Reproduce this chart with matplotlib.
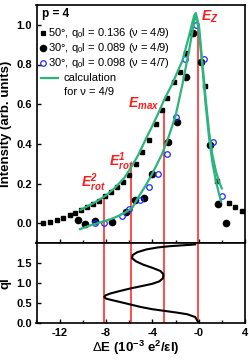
import matplotlib
matplotlib.use("Agg")
import matplotlib.pyplot as plt

plt.rcParams['font.family'] = ['Liberation Sans', 'DejaVu Sans']
plt.rcParams['axes.unicode_minus'] = False
plt.rcParams['mathtext.fontset'] = 'custom'
plt.rcParams['mathtext.rm'] = 'Liberation Sans'
plt.rcParams['mathtext.it'] = 'Liberation Sans:italic'
plt.rcParams['mathtext.bf'] = 'Liberation Sans:bold'
plt.rcParams['mathtext.bfit'] = 'Liberation Sans:italic:bold'

# measured spectra
sq_x = [-13.4, -12.85, -12.25, -11.7, -11.15, -10.65, -10.15, -9.65, -9.1, -8.6, -8.05,
        -7.55, -7.05, -6.5, -6.0, -5.45, -4.85, -4.3, -3.7, -3.2, -2.7, -2.13, -1.64,
        -1.1, 0.54, 1.58, 2.6, 3.17, 3.7]
sq_y = [0.0, 0.008, 0.018, 0.028, 0.04, 0.053, 0.066, 0.08, 0.095, 0.11, 0.135,
        0.155, 0.18, 0.21, 0.245, 0.3, 0.36, 0.42, 0.5, 0.57, 0.63, 0.71, 0.76,
        0.86, 0.69, 0.215, 0.1, 0.083, 0.06]

dot_x = [-10.45, -9.78, -8.95, -7.5, -6.25, -5.5, -4.74, -4.05, -2.67, -1.84, -1.12,
         -0.45, 0.19, 0.97, 1.65, 2.4]
dot_y = [0.015, -0.005, 0.012, 0.005, 0.055, 0.115, 0.125, 0.25, 0.41, 0.51, 0.735,
         0.96, 0.815, 0.395, 0.095, 0.0]

ring_x = [-8.95, -8.2, -6.6, -6.0, -5.05, -4.3, -3.5, -2.7, -1.93, -1.17, -0.25,
          0.42, 1.2, 2.0]
ring_y = [0.0, 0.0, 0.037, 0.073, 0.115, 0.18, 0.25, 0.35, 0.535, 0.83, 1.0,
          0.83, 0.41, 0.135]

# calculated curves (nu = 4/9)
calc1_x = [-10.2, -9.5, -8.8, -8.0, -7.2, -6.4, -5.8, -5.2, -4.6, -4.0, -3.4, -3.0,
           -2.3, -1.4, -0.85, -0.4, -0.25, 0.04, 0.3, 0.6, 0.9, 1.2, 1.5, 1.75, 2.0]
calc1_y = [0.067, 0.088, 0.11, 0.14, 0.18, 0.23, 0.285, 0.345, 0.42, 0.49, 0.565, 0.62,
           0.70, 0.82, 0.94, 1.045, 1.06, 0.99, 0.82, 0.63, 0.46, 0.34, 0.26, 0.21, 0.175]
calc2_x = [-10.25, -9.3, -8.3, -7.6, -6.9, -6.3, -5.7, -5.17, -4.57, -4.0, -3.15, -2.57,
           -2.0, -1.4, -0.83, -0.39, -0.28, 0.0, 0.3, 0.6, 0.9, 1.2, 1.5, 1.75, 1.93]
calc2_y = [-0.03, -0.01, 0.007, 0.02, 0.037, 0.055, 0.08, 0.135, 0.19, 0.25, 0.35, 0.44,
           0.54, 0.70, 0.87, 1.02, 1.055, 0.98, 0.80, 0.60, 0.43, 0.30, 0.21, 0.15, 0.11]

# dispersion ql vs dE
disp_e = [0, -0.3, -1.0, -2.0, -3.0, -4.0, -5.0, -6.0, -7.0, -7.6, -8.0, -8.15, -8.05,
          -7.6, -6.8, -5.8, -4.8, -4.0, -3.4, -3.08, -3.05, -3.3, -4.0, -4.8, -5.4,
          -5.75, -5.7, -5.3, -4.5, -3.5, -2.5, -1.5, -0.7, -0.3]
disp_q = [0, 0.15, 0.22, 0.265, 0.305, 0.345, 0.4, 0.47, 0.54, 0.58, 0.61, 0.65, 0.69,
          0.74, 0.8, 0.87, 0.93, 0.98, 1.04, 1.12, 1.22, 1.3, 1.38, 1.46, 1.54,
          1.62, 1.7, 1.77, 1.84, 1.89, 1.92, 1.94, 1.955, 1.965]

# critical energies
crit_e = [-8.15, -5.8, -3.0, -0.05]
crit_top = [0.14, 0.28, 0.57, 1.0]
crit_lab = [r'$\mathbfit{E}^{\mathbfit{2}}_{\mathbfit{rot}}$',
            r'$\mathbfit{E}^{\mathbfit{1}}_{\mathbfit{rot}}$',
            r'$\mathbfit{E}_{\mathbfit{max}}$',
            r'$\mathbfit{E}_{\mathbfit{Z}}$']
lab_pos = [(-8.0, 0.18, 'right'), (-5.6, 0.29, 'right'), (-3.45, 0.585, 'right'),
           (0.2, 1.02, 'left')]

green = '#2db47e'
red = '#ff1a1a'

fig = plt.figure(figsize=(2.49, 3.6), dpi=100)
ax = fig.add_axes([36.5 / 249, 1 - 243 / 360, 208.5 / 249, 238 / 360])
ax2 = fig.add_axes([36.5 / 249, 1 - 323 / 360, 208.5 / 249, 80 / 360], sharex=ax)

ax.plot(sq_x, sq_y, 's', color='black', ms=3.2, zorder=3)
ax.plot(dot_x, dot_y, 'o', color='black', ms=4.5, zorder=3)
ax.plot(ring_x, ring_y, 'o', mfc='none', mec='#1a2cff', ms=4, mew=0.9, zorder=3)
ax.plot(calc1_x, calc1_y, '-', color=green, lw=1.6, zorder=4)
ax.plot(calc2_x, calc2_y, '-', color=green, lw=1.6, zorder=4)

for e, top, lab, (lx, ly, ha) in zip(crit_e, crit_top, crit_lab, lab_pos):
    ax.plot([e, e], [-0.1, top], color=red, lw=1.1, zorder=2)
    ax2.axvline(e, color=red, lw=1.1, zorder=2)
    ax.text(lx, ly, lab, color=red, fontsize=10, ha=ha, va='baseline')

ax2.plot(disp_e, disp_q, color='black', lw=1.5, zorder=3)

ax.set_xlim(-14, 4)
ax.set_ylim(-0.1, 1.1)
ax2.set_ylim(0, 2.0)

ax.set_yticks([0.0, 0.2, 0.4, 0.6, 0.8, 1.0])
ax.set_yticklabels(['0.0', '0.2', '0.4', '0.6', '0.8', '1.0'])
ax2.set_xticks([-12, -8, -4, 0, 4])
ax2.set_xticks([-14, -10, -6, -2, 2], minor=True)
ax2.set_xticklabels(['-12', '-8', '-4', '-0', '4'])
ax2.set_yticks([0.0, 0.5, 1.0, 1.5])
ax2.set_yticklabels(['0.0', '0.5', '1.0', '1.5'])
ax.tick_params(labelbottom=False)

for a in (ax, ax2):
    a.tick_params(which='both', direction='in', labelsize=8, width=1)
    a.tick_params(which='major', length=3)
    a.tick_params(which='minor', length=2)
    for lbl in a.get_xticklabels() + a.get_yticklabels():
        lbl.set_fontweight('bold')
    for s in a.spines.values():
        s.set_linewidth(1.2)

ax.set_ylabel('Intensity (arb. units)', fontsize=9.5, fontweight='bold')
ax.yaxis.set_label_coords(-0.118, 0.5)
ax2.set_ylabel('ql', fontsize=9.5, fontweight='bold')
ax2.yaxis.set_label_coords(-0.118, 0.5)
ax2.set_xlabel(r'$\Delta$E (10$^{\mathbf{-3}}$ e$^{\mathbf{2}}$/$\mathbf{\epsilon}$l)',
               fontsize=9.5, fontweight='bold')
ax2.xaxis.set_label_coords(0.477, -0.2)

# legend block
tr = ax.transAxes
ax.text(0.026, 0.95, 'p = 4', transform=tr, fontsize=8.5, fontweight='bold', va='baseline')
rows = [('s', 'black', 'black', 3.2, '50°, q$_0$l = 0.136 (ν = 4/9)'),
        ('o', 'black', 'black', 4.5, '30°, q$_0$l = 0.089 (ν = 4/9)'),
        ('o', 'none', '#1a2cff', 4, '30°, q$_0$l = 0.098 (ν = 4/7)')]
for i, (m, fc, ec, ms, txt) in enumerate(rows):
    yy = (243 - 33 - 15 * i) / 238
    ax.plot([0.03], [yy], m, mfc=fc, mec=ec, ms=ms, mew=0.9, transform=tr)
    ax.text(0.055, yy, txt, transform=tr, fontsize=8, va='center')
yy = (243 - 78) / 238
ax.plot([0.02, 0.105], [yy, yy], color=green, lw=1.6, transform=tr)
ax.text(0.13, yy, 'calculation', transform=tr, fontsize=8, va='center')
ax.text(0.13, yy - 14 / 238, 'for ν = 4/9', transform=tr, fontsize=8, va='center')

fig.savefig('out.png', dpi=100)
